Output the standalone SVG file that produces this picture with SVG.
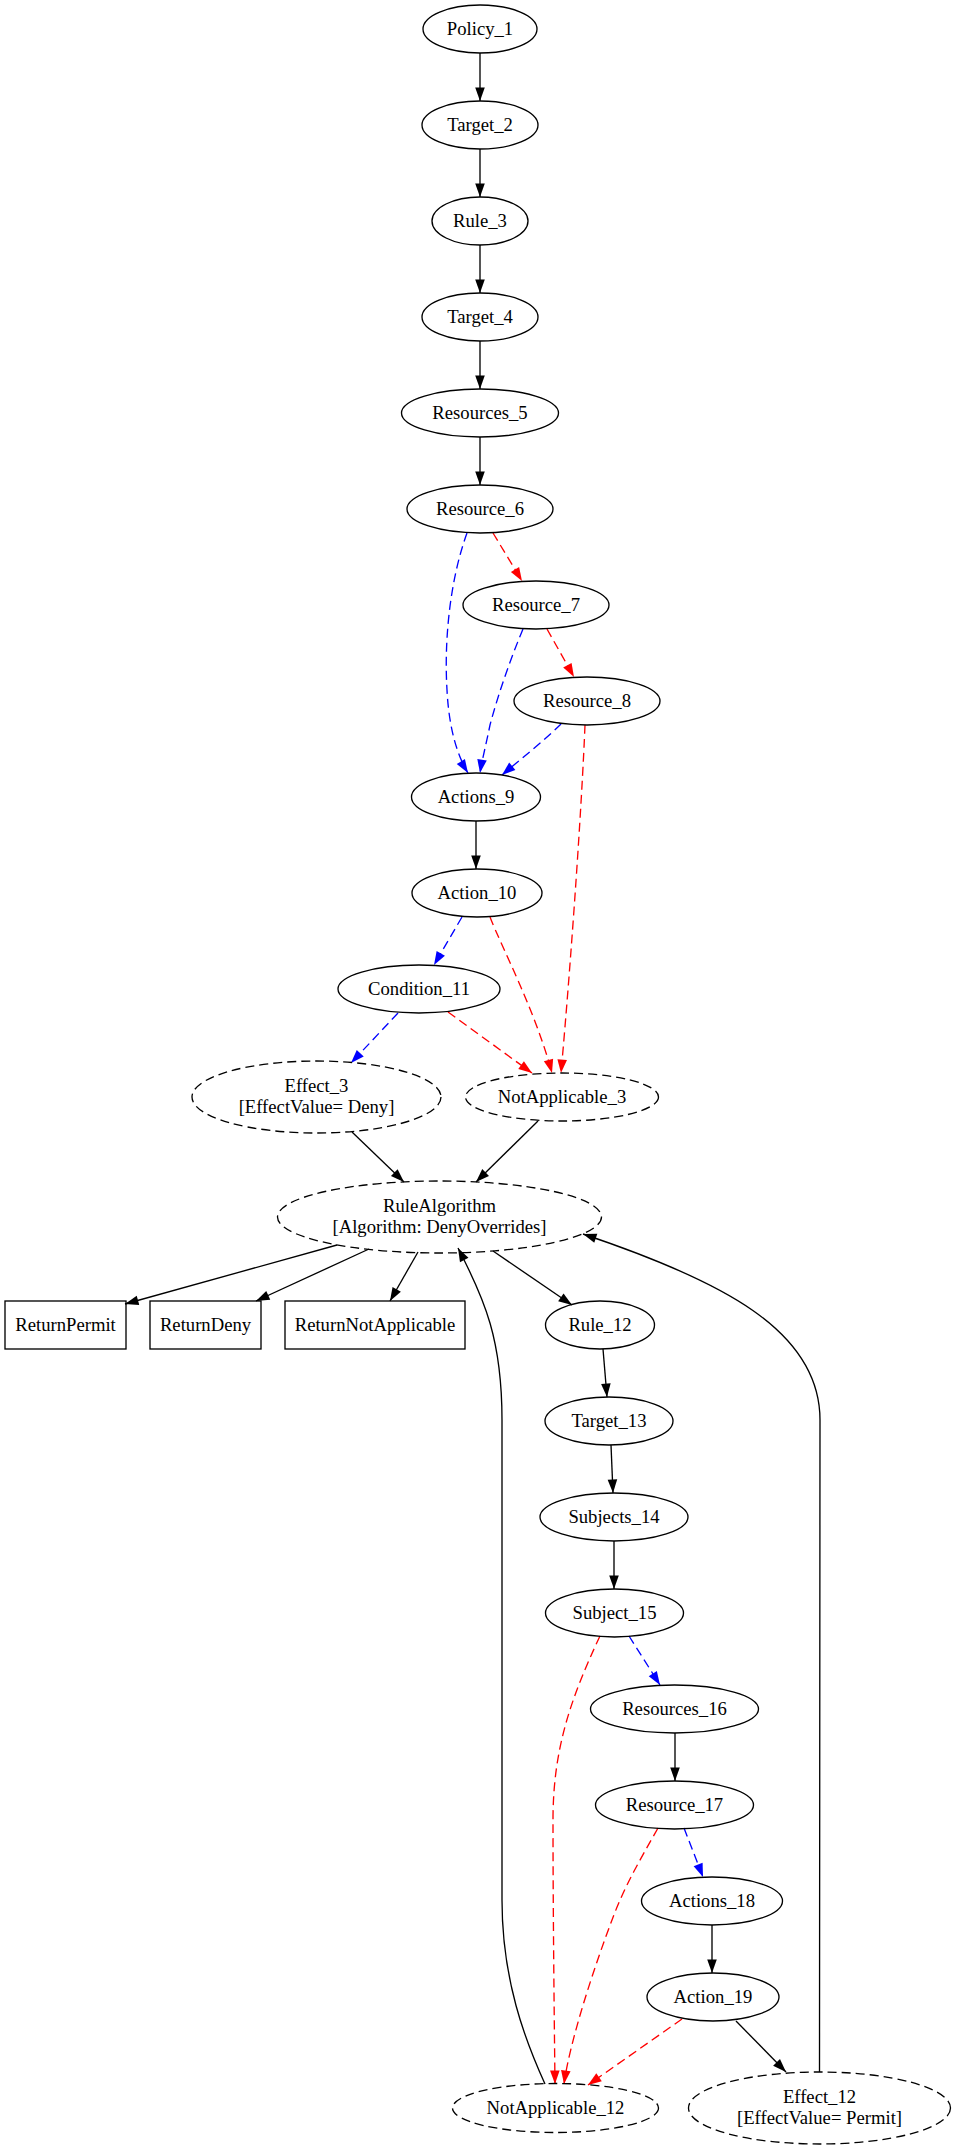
<svg xmlns="http://www.w3.org/2000/svg" width="954" height="2146" viewBox="0 0 954 2146">
<style>
.n ellipse, .n rect { fill: none; stroke: #000; stroke-width: 1.33; }
.n.d ellipse { stroke-dasharray: 9,5; }
text { font-family: "Liberation Serif", "Times New Roman", serif; font-size: 18.67px; text-anchor: middle; fill: #000; }
.e { fill: none; stroke-width: 1.33; }
.k { stroke: #000; marker-end: url(#ak); }
.b { stroke: #0000ff; stroke-dasharray: 9,5; marker-end: url(#ab); }
.r { stroke: #ff0000; stroke-dasharray: 9,5; marker-end: url(#ar); }
</style>
<defs>
<marker id="ak" markerWidth="14" markerHeight="10" refX="13.5" refY="4.8" orient="auto" markerUnits="userSpaceOnUse" overflow="visible"><path d="M0,0 L13.5,4.8 L0,9.6 Z" fill="#000"/></marker>
<marker id="ab" markerWidth="14" markerHeight="10" refX="13.5" refY="4.8" orient="auto" markerUnits="userSpaceOnUse" overflow="visible"><path d="M0,0 L13.5,4.8 L0,9.6 Z" fill="#0000ff"/></marker>
<marker id="ar" markerWidth="14" markerHeight="10" refX="13.5" refY="4.8" orient="auto" markerUnits="userSpaceOnUse" overflow="visible"><path d="M0,0 L13.5,4.8 L0,9.6 Z" fill="#ff0000"/></marker>
</defs>
<rect x="0" y="0" width="954" height="2146" fill="#fff"/>

<g id="edges">
<path class="e k" d="M480,53 L480,101"/>
<path class="e k" d="M480,149 L480,197"/>
<path class="e k" d="M480,245 L480,293"/>
<path class="e k" d="M480,341 L480,389"/>
<path class="e k" d="M480,437 L480,485"/>
<path class="e r" d="M493,533 L522,581"/>
<path class="e b" d="M467,533 C450,580 444,640 447,690 C449,730 458,757 468,773"/>
<path class="e r" d="M547,629 L574,677"/>
<path class="e b" d="M523,629 C510,660 498,695 490,725 C486,745 482,760 480,773"/>
<path class="e b" d="M561,724 C545,740 522,758 502,775"/>
<path class="e r" d="M585,725 C582,800 572,950 561,1073"/>
<path class="e k" d="M476,821 L476,869"/>
<path class="e b" d="M462,917 L434,965"/>
<path class="e r" d="M490,917 C502,948 535,1010 552,1073"/>
<path class="e b" d="M398,1013 L351,1063"/>
<path class="e r" d="M448,1012 L532,1073"/>
<path class="e k" d="M352,1132 L404,1182"/>
<path class="e k" d="M538,1121 L476,1182"/>
<path class="e k" d="M337,1245 L125,1304"/>
<path class="e k" d="M369,1249 L256,1301"/>
<path class="e k" d="M418,1252 L390,1301"/>
<path class="e k" d="M493,1251 L572,1305"/>
<path class="e k" d="M603,1349 L607,1397"/>
<path class="e k" d="M611,1445 L613,1493"/>
<path class="e k" d="M614,1541 L614,1589"/>
<path class="e b" d="M629,1636 L660,1685"/>
<path class="e r" d="M600,1636 C570,1700 553,1750 553,1820 C553,1900 554,2000 555,2084"/>
<path class="e k" d="M675,1733 L675,1781"/>
<path class="e b" d="M684,1828 L703,1877"/>
<path class="e r" d="M658,1828 C640,1860 625,1885 612,1920 C595,1965 570,2040 564,2084"/>
<path class="e k" d="M712,1925 L712,1973"/>
<path class="e r" d="M682,2019 L588,2085"/>
<path class="e k" d="M736,2021 L786,2072"/>
<path class="e k" d="M545,2084 C525,2040 502,1980 502,1900 L502,1420 C502,1340 485,1300 458,1248"/>
<path class="e k" d="M819.5,2072 L820,1420 C820,1330 720,1280 583,1234"/>
</g>

<g id="Policy_1" class="n"><ellipse cx="480" cy="29" rx="57" ry="24"/><text x="480" y="35">Policy_1</text></g>
<g id="Target_2" class="n"><ellipse cx="480" cy="125" rx="58" ry="24"/><text x="480" y="131">Target_2</text></g>
<g id="Rule_3" class="n"><ellipse cx="480" cy="221" rx="48" ry="24"/><text x="480" y="227">Rule_3</text></g>
<g id="Target_4" class="n"><ellipse cx="480" cy="317" rx="58" ry="24"/><text x="480" y="323">Target_4</text></g>
<g id="Resources_5" class="n"><ellipse cx="480" cy="413" rx="78.5" ry="24"/><text x="480" y="419">Resources_5</text></g>
<g id="Resource_6" class="n"><ellipse cx="480" cy="509" rx="73" ry="24"/><text x="480" y="515">Resource_6</text></g>
<g id="Resource_7" class="n"><ellipse cx="536" cy="605" rx="73" ry="24"/><text x="536" y="611">Resource_7</text></g>
<g id="Resource_8" class="n"><ellipse cx="587" cy="701" rx="73" ry="24"/><text x="587" y="707">Resource_8</text></g>
<g id="Actions_9" class="n"><ellipse cx="476" cy="797" rx="64.5" ry="24"/><text x="476" y="803">Actions_9</text></g>
<g id="Action_10" class="n"><ellipse cx="477" cy="893" rx="65" ry="24"/><text x="477" y="899">Action_10</text></g>
<g id="Condition_11" class="n"><ellipse cx="419" cy="989" rx="81" ry="24"/><text x="419" y="995">Condition_11</text></g>
<g id="Effect_3" class="n d"><ellipse cx="316.5" cy="1097" rx="124.5" ry="36"/><text x="316.5" y="1092">Effect_3</text><text x="316.5" y="1113">[EffectValue= Deny]</text></g>
<g id="NotApplicable_3" class="n d"><ellipse cx="562" cy="1097" rx="96.5" ry="24"/><text x="562" y="1103">NotApplicable_3</text></g>
<g id="RuleAlgorithm" class="n d"><ellipse cx="439.5" cy="1217" rx="162" ry="36"/><text x="439.5" y="1212">RuleAlgorithm</text><text x="439.5" y="1233">[Algorithm: DenyOverrides]</text></g>
<g id="ReturnPermit" class="n"><rect x="5" y="1301" width="121" height="48"/><text x="65.5" y="1331">ReturnPermit</text></g>
<g id="ReturnDeny" class="n"><rect x="150" y="1301" width="111" height="48"/><text x="205.5" y="1331">ReturnDeny</text></g>
<g id="ReturnNotApplicable" class="n"><rect x="285" y="1301" width="180" height="48"/><text x="375" y="1331">ReturnNotApplicable</text></g>
<g id="Rule_12" class="n"><ellipse cx="600" cy="1325" rx="54.5" ry="24"/><text x="600" y="1331">Rule_12</text></g>
<g id="Target_13" class="n"><ellipse cx="609" cy="1421" rx="64" ry="24"/><text x="609" y="1427">Target_13</text></g>
<g id="Subjects_14" class="n"><ellipse cx="614" cy="1517" rx="74" ry="24"/><text x="614" y="1523">Subjects_14</text></g>
<g id="Subject_15" class="n"><ellipse cx="614.5" cy="1613" rx="69" ry="24"/><text x="614.5" y="1619">Subject_15</text></g>
<g id="Resources_16" class="n"><ellipse cx="674.5" cy="1709" rx="84" ry="24"/><text x="674.5" y="1715">Resources_16</text></g>
<g id="Resource_17" class="n"><ellipse cx="674.5" cy="1805" rx="79" ry="24"/><text x="674.5" y="1811">Resource_17</text></g>
<g id="Actions_18" class="n"><ellipse cx="712" cy="1901" rx="70.5" ry="24"/><text x="712" y="1907">Actions_18</text></g>
<g id="Action_19" class="n"><ellipse cx="713" cy="1997" rx="66" ry="24"/><text x="713" y="2003">Action_19</text></g>
<g id="NotApplicable_12" class="n d"><ellipse cx="555.5" cy="2108" rx="103" ry="24.5"/><text x="555.5" y="2114">NotApplicable_12</text></g>
<g id="Effect_12" class="n d"><ellipse cx="819.5" cy="2108" rx="131" ry="36"/><text x="819.5" y="2103">Effect_12</text><text x="819.5" y="2124">[EffectValue= Permit]</text></g>
</svg>
